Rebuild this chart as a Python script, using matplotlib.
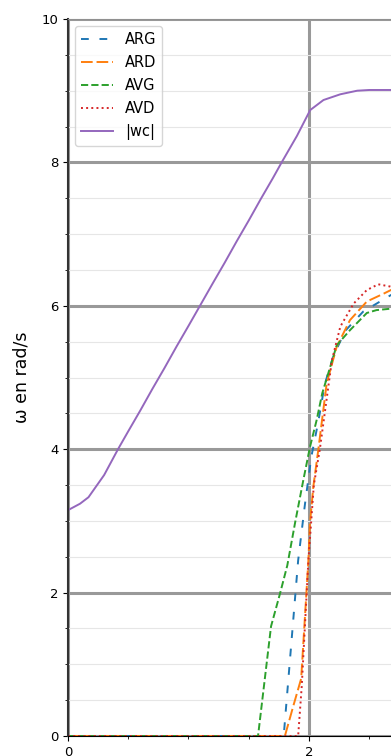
import numpy as np
import matplotlib
matplotlib.use('Agg')
import matplotlib.pyplot as plt
from matplotlib.ticker import MultipleLocator

# Wheel speeds
x_arg = [0.0, 1.79, 1.91, 1.967, 2.02, 2.08, 2.13, 2.20, 2.30, 2.45, 2.59, 2.68, 2.75]
y_arg = [0.0, 0.0, 2.45, 3.24, 3.90, 4.41, 4.90, 5.29, 5.65, 5.92, 6.06, 6.15, 6.18]

x_ard = [0.0, 1.80, 1.87, 1.935, 1.995, 2.008, 2.036, 2.077, 2.119, 2.147, 2.23, 2.34, 2.48, 2.62, 2.68, 2.75]
y_ard = [0.0, 0.0, 0.42, 0.80, 2.45, 2.97, 3.48, 3.99, 4.55, 4.92, 5.43, 5.80, 6.06, 6.17, 6.22, 6.25]

x_avg = [0.0, 1.577, 1.685, 1.76, 1.82, 1.884, 1.953, 2.008, 2.064, 2.11, 2.23, 2.34, 2.48, 2.56, 2.68, 2.75]
y_avg = [0.0, 0.0, 1.53, 1.99, 2.38, 2.97, 3.57, 4.03, 4.41, 4.78, 5.45, 5.66, 5.90, 5.94, 5.96, 5.97]

x_avd = [0.0, 1.91, 1.94, 1.995, 2.04, 2.09, 2.19, 2.26, 2.37, 2.48, 2.575, 2.67, 2.75]
y_avd = [0.0, 0.0, 0.70, 2.45, 3.50, 4.00, 5.24, 5.71, 6.03, 6.22, 6.30, 6.27, 6.22]

# command |wc|
x_wc = [0.0, 0.1, 0.17, 0.3, 0.415, 0.5, 0.6, 0.7, 0.8, 0.9, 1.0, 1.095, 1.2, 1.3, 1.4,
        1.5, 1.6, 1.7, 1.773, 1.9, 2.01, 2.12, 2.26, 2.40, 2.5, 2.68, 2.8]
y_wc = [3.15, 3.24, 3.33, 3.64, 4.00, 4.25, 4.54, 4.84, 5.13, 5.43, 5.72, 6.00, 6.31, 6.60, 6.90,
        7.19, 7.49, 7.78, 8.00, 8.37, 8.73, 8.87, 8.95, 9.00, 9.01, 9.01, 9.02]

fig = plt.figure(figsize=(3.91, 7.56), dpi=100)
# axes run past the right edge, like the cropped reference
ax = fig.add_axes([68 / 391, 20 / 756, 361.5 / 391, 717 / 756])

ax.plot(x_arg, y_arg, color='tab:blue', linestyle='--', dashes=(4, 5.5), lw=1.4, label='ARG')
ax.plot(x_ard, y_ard, color='tab:orange', linestyle='--', dashes=(6, 2), lw=1.4, label='ARD')
ax.plot(x_avg, y_avg, color='tab:green', linestyle='--', lw=1.4, label='AVG')
ax.plot(x_avd, y_avd, color='tab:red', linestyle=':', lw=1.4, label='AVD')
ax.plot(x_wc, y_wc, color='tab:purple', lw=1.4, label='|wc|')

ax.set_xlim(0, 3)
ax.set_ylim(0, 10)
ax.xaxis.set_major_locator(MultipleLocator(2))
ax.xaxis.set_minor_locator(MultipleLocator(0.5))
ax.yaxis.set_major_locator(MultipleLocator(2))
ax.yaxis.set_minor_locator(MultipleLocator(0.5))
ax.tick_params(labelsize=9.5)

ax.grid(which='major', color='#999999', lw=2.2)
ax.yaxis.grid(which='minor', color='#e6e6e6', lw=0.8)
ax.set_axisbelow(True)
ax.spines['top'].set_color('#909090')
ax.spines['left'].set_linewidth(1.5)
ax.spines['left'].set_color('#333333')

ax.set_ylabel('ω en rad/s', fontsize=12.5, labelpad=8)
ax.legend(loc='upper left', fontsize=10.5, handlelength=2.2, labelspacing=0.55)

fig.savefig('out.png', dpi=100)
